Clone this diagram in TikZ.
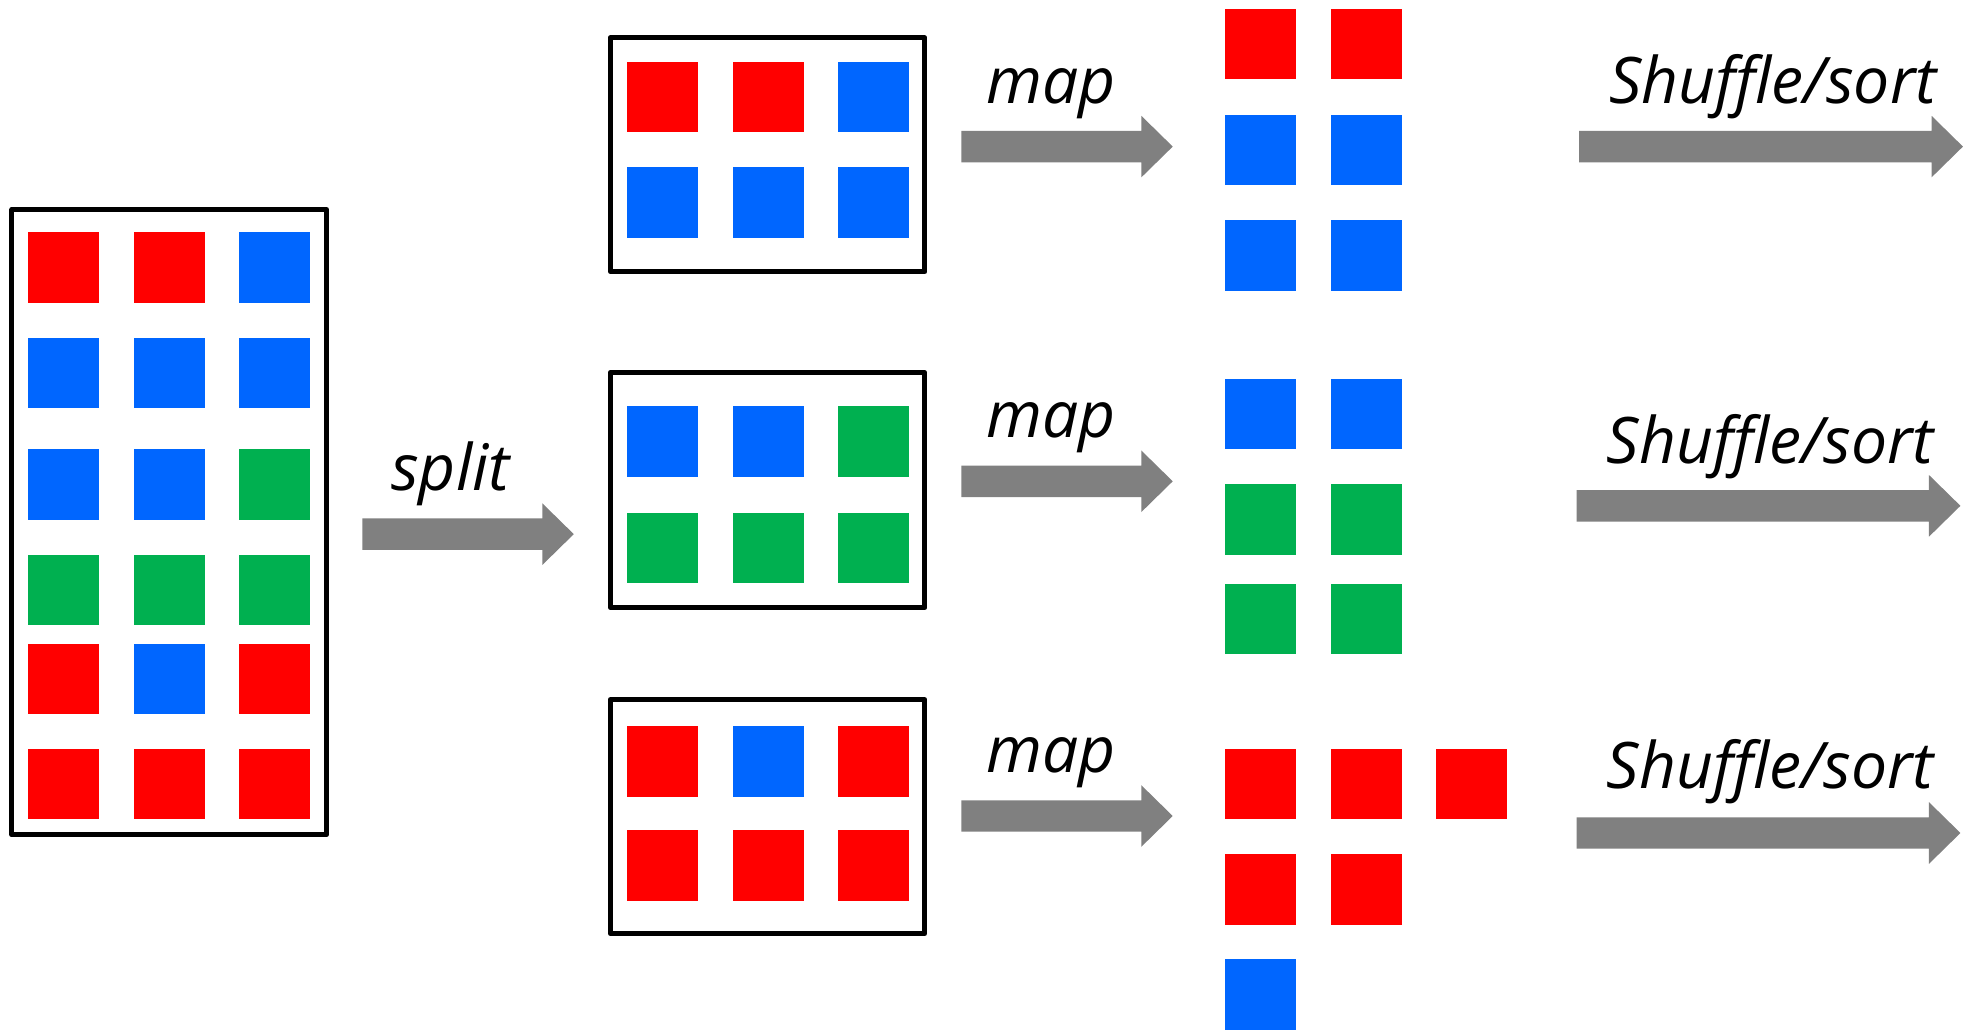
\documentclass[tikz,border=0pt]{standalone}
\usepackage{fontspec}
\setmainfont[Ligatures=NoCommon]{Open Sans}
\definecolor{tr}{HTML}{FF0000}
\definecolor{tb}{HTML}{0066FF}
\definecolor{tg}{HTML}{00B050}
\definecolor{flow}{HTML}{808080}

% block arrow: name, x of tail, x of tip, y of axis
\newcommand\blockarrow[4]{%
  \coordinate (#1-tail) at (#2,#4);
  \coordinate (#1-tip) at (#3,#4);
  \fill[flow] (#2,#4-12.5) -- (#3-25,#4-12.5) -- (#3-25,#4-24.5) -- (#1-tip)
    -- (#3-25,#4+24.5) -- (#3-25,#4+12.5) -- (#2,#4+12.5) -- cycle;}

\begin{document}
\begin{tikzpicture}[x=1pt,y=-1pt,
  tile/.style={minimum width=56.5pt,minimum height=56pt,inner sep=0pt,outer sep=0pt,draw=none},
  frame/.style={draw=black,line width=4pt,line join=round,minimum width=250pt,inner sep=0pt},
  lbl/.style={font=\fontsize{51}{60}\selectfont\itshape,anchor=base,inner sep=0pt}]
\useasboundingbox (0,0) rectangle (1568,818);

% input data set
\foreach \y/\a/\b/\c [count=\r] in {212.5/tr/tr/tb, 296.5/tb/tb/tb, 385/tb/tb/tg,
    469/tg/tg/tg, 539.5/tr/tb/tr, 623/tr/tr/tr} {
  \node[tile,fill=\a] (in-\r-1) at (50.5,\y) {};
  \node[tile,fill=\b] (in-\r-2) at (134.5,\y) {};
  \node[tile,fill=\c] (in-\r-3) at (218.5,\y) {};
}
\node[frame,minimum height=497pt] (input) at (134.5,415) {};

% split
\blockarrow{split}{288}{456}{424.5}
\node[lbl] (splitlbl) at (358,390) {split};

% three splits
\foreach \y/\a/\b/\c [count=\r] in {77/tr/tr/tb, 161/tb/tb/tb,
    351/tb/tb/tg, 435.5/tg/tg/tg, 605/tr/tb/tr, 688/tr/tr/tr} {
  \node[tile,fill=\a] (sp-\r-1) at (526.5,\y) {};
  \node[tile,fill=\b] (sp-\r-2) at (610.5,\y) {};
  \node[tile,fill=\c] (sp-\r-3) at (694.5,\y) {};
}
\node[frame,minimum height=186pt] (splitA) at (610,123) {};
\node[frame,minimum height=187pt] (splitB) at (610,389.5) {};
\node[frame,minimum height=186pt] (splitC) at (610,649) {};

% map
\blockarrow{mapA}{764}{932}{116.5}
\blockarrow{mapB}{764}{932}{382.5}
\blockarrow{mapC}{764}{932}{648.5}
\node[lbl] (mapAlbl) at (835,82) {map};
\node[lbl] (mapBlbl) at (835,348) {map};
\node[lbl] (mapClbl) at (835,614) {map};

% map output
\foreach \y/\a/\b [count=\r] in {35/tr/tr, 119/tb/tb, 203/tb/tb,
    329/tb/tb, 413/tg/tg, 492/tg/tg, 707/tr/tr} {
  \node[tile,fill=\a] (out-\r-1) at (1002,\y) {};
  \node[tile,fill=\b] (out-\r-2) at (1086,\y) {};
}
\node[tile,fill=tr] (outC-1) at (1002,623) {};
\node[tile,fill=tr] (outC-2) at (1086,623) {};
\node[tile,fill=tr] (outC-3) at (1169.5,623) {};
\node[tile,fill=tb] (outC-4) at (1002,790.5) {};

% shuffle/sort
\blockarrow{shA}{1255}{1560}{116.5}
\blockarrow{shB}{1253}{1558}{402}
\blockarrow{shC}{1253}{1558}{662}
\node[lbl] (shAlbl) at (1409,82) {Shuffle/sort};
\node[lbl] (shBlbl) at (1407,368) {Shuffle/sort};
\node[lbl] (shClbl) at (1407,627) {Shuffle/sort};
\end{tikzpicture}
\end{document}
